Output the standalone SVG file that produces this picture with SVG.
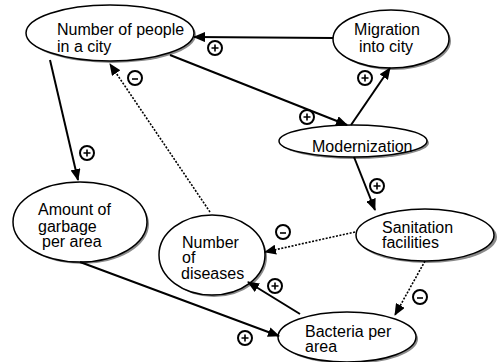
<svg xmlns="http://www.w3.org/2000/svg" width="497" height="362" viewBox="0 0 497 362">
<defs>
<marker id="ah" markerUnits="userSpaceOnUse" markerWidth="12" markerHeight="10" refX="11" refY="5" orient="auto">
<path d="M0,0 L12,5 L0,10 Z" fill="#000"/>
</marker>
</defs>
<style>
.node ellipse.bg{fill:#fff;stroke:#000;stroke-width:1.5}
.node ellipse.sh{fill:#8a8a8a;stroke:none}
text{font-family:"Liberation Sans",Arial,sans-serif;font-size:16px;fill:#000}
.solid{fill:none;stroke:#000;stroke-width:2;marker-end:url(#ah)}
.dot{fill:none;stroke:#000;stroke-width:1.6;stroke-dasharray:2 1.5;marker-end:url(#ah)}
.sign circle{fill:#fff;stroke:#000;stroke-width:2}
.sign path{stroke:#000;stroke-width:1.6;fill:none}
</style>
<rect width="497" height="362" fill="#fff"/>
<g id="n-people" class="node">
<ellipse class="sh" cx="112" cy="35" rx="84" ry="28"/>
<ellipse class="bg" cx="110" cy="33" rx="84" ry="28"/>
<text x="57" y="35">Number of people</text>
<text x="57" y="52">in a city</text>
</g>
<g id="n-migration" class="node">
<ellipse class="sh" cx="393" cy="41" rx="58" ry="29"/>
<ellipse class="bg" cx="391" cy="39" rx="58" ry="29"/>
<text x="387" y="35" text-anchor="middle">Migration</text>
<text x="386" y="52" text-anchor="middle">into city</text>
</g>
<g id="n-modern" class="node">
<ellipse class="sh" cx="355" cy="143" rx="74" ry="16"/>
<ellipse class="bg" cx="353" cy="141" rx="74" ry="16"/>
<text x="312" y="152">Modernization</text>
</g>
<g id="n-garbage" class="node">
<ellipse class="sh" cx="82" cy="224" rx="67" ry="40"/>
<ellipse class="bg" cx="80" cy="222" rx="67" ry="40"/>
<text x="38" y="215">Amount of</text>
<text x="38" y="232">garbage</text>
<text x="42" y="247">per area</text>
</g>
<g id="n-diseases" class="node">
<ellipse class="sh" cx="214" cy="257" rx="53" ry="40"/>
<ellipse class="bg" cx="212" cy="255" rx="53" ry="40"/>
<text x="182" y="248">Number</text>
<text x="182" y="263">of</text>
<text x="181" y="279">diseases</text>
</g>
<g id="n-sanitation" class="node">
<ellipse class="sh" cx="427" cy="237" rx="70" ry="26"/>
<ellipse class="bg" cx="425" cy="235" rx="69" ry="26"/>
<text x="382" y="233">Sanitation</text>
<text x="382" y="248">facilities</text>
</g>
<g id="n-bacteria" class="node">
<ellipse class="sh" cx="349" cy="339" rx="69" ry="25"/>
<ellipse class="bg" cx="347" cy="337" rx="69" ry="25"/>
<text x="305" y="337">Bacteria per</text>
<text x="305" y="352">area</text>
</g>
<g id="connectors">
<path class="solid" d="M333,38 L194,37"/>
<path class="solid" d="M170,55 L347,125"/>
<path class="solid" d="M351,125 L390,68"/>
<path class="solid" d="M354,157 L375,210"/>
<path class="solid" d="M50,60 L78,180"/>
<path class="dot" d="M210,212 L110,64"/>
<path class="dot" d="M355,232 L265,252"/>
<path class="dot" d="M425,261 L395,315"/>
<path class="solid" d="M300,314 L248,282"/>
<path class="solid" d="M80,262 L279,336"/>
<g class="sign"><circle cx="215" cy="48" r="7"/><path d="M211.5,48 H218.5 M215,44.5 V51.5"/></g>
<g class="sign"><circle cx="307" cy="117" r="7"/><path d="M303.5,117 H310.5 M307,113.5 V120.5"/></g>
<g class="sign"><circle cx="365" cy="78" r="7"/><path d="M361.5,78 H368.5 M365,74.5 V81.5"/></g>
<g class="sign"><circle cx="377" cy="186" r="7"/><path d="M373.5,186 H380.5 M377,182.5 V189.5"/></g>
<g class="sign"><circle cx="87" cy="153" r="7"/><path d="M83.5,153 H90.5 M87,149.5 V156.5"/></g>
<g class="sign"><circle cx="275" cy="286" r="7"/><path d="M271.5,286 H278.5 M275,282.5 V289.5"/></g>
<g class="sign"><circle cx="245" cy="338" r="7"/><path d="M241.5,338 H248.5 M245,334.5 V341.5"/></g>
<g class="sign"><circle cx="135" cy="78" r="7"/><path d="M132,79 H138"/></g>
<g class="sign"><circle cx="283" cy="232" r="7"/><path d="M280,233 H286"/></g>
<g class="sign"><circle cx="420" cy="297" r="7"/><path d="M417,298 H423"/></g>
</g>
</svg>
